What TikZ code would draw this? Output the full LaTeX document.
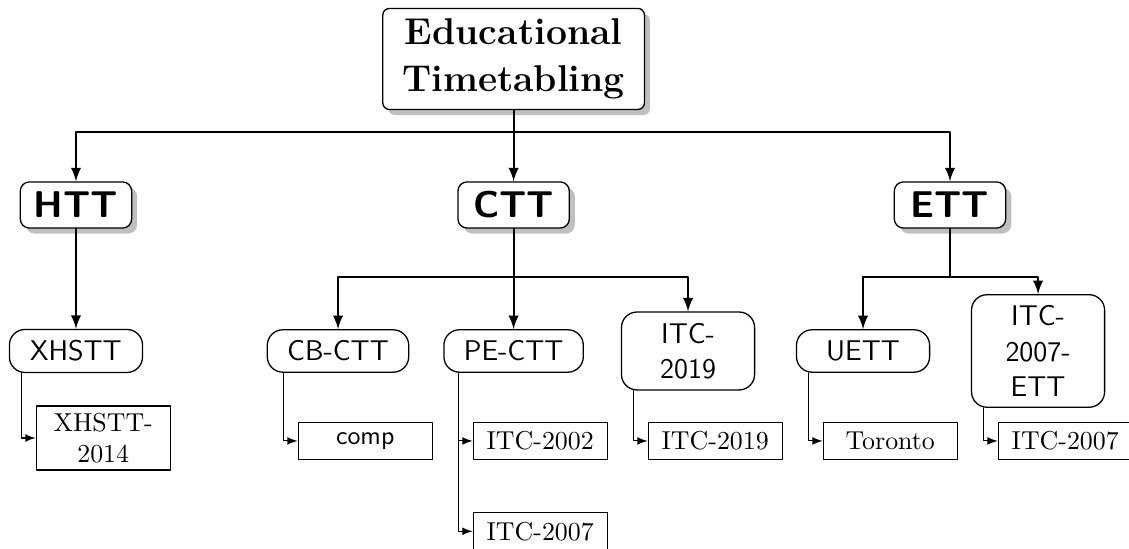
\documentclass[tikz,border=0pt]{standalone}
\usepackage{fontspec}
\usetikzlibrary{arrows,shadows}

\begin{document}
\begin{tikzpicture}[line cap=round,line join=round,>=latex,x=1.0cm,y=1.0cm,
	rootbox/.style={draw,line width=0.5pt,fill=white,rounded corners=2.5pt,drop shadow,align=center,font=\Large\bfseries,minimum width=101pt,minimum height=39pt,inner sep=4pt},
	kindbox/.style={draw,line width=0.5pt,fill=white,rounded corners=3.5pt,drop shadow,font=\Large\sffamily\bfseries,minimum width=43pt,minimum height=17.8pt,inner sep=2pt},
	setbox/.style={draw,line width=0.5pt,fill=white,rounded corners=6pt,align=center,font=\fontsize{11pt}{13.6pt}\selectfont\sffamily,minimum width=51.4pt,minimum height=15.4pt,inner xsep=7.7pt,inner ysep=4.25pt},
	leafbox/.style={draw,line width=0.5pt,fill=white,align=center,minimum width=51.7pt,minimum height=14.3pt,inner sep=2.7pt},
	mainline/.style={line width=0.8pt,->},
	leafline/.style={line width=0.4pt,->}]
				\useasboundingbox (0,0) rectangle (15.321,7.450);
				\node[rootbox] (root) at (6.97,6.650) {Educational\\Timetabling};
				\node[kindbox] (htt) at (1.031,4.668) {HTT};
				\node[kindbox] (ctt) at (6.97,4.668) {CTT};
				\node[kindbox] (ett) at (12.892,4.668) {ETT};
				\node[setbox] (xhstt) at (1.031,2.687) {XHSTT};
				\node[setbox] (cbctt) at (4.587,2.687) {CB-CTT};
				\node[setbox] (pectt) at (6.97,2.687) {PE-CTT};
				\node[setbox] (itcctt) at (9.337,2.687) {ITC-\\2019};
				\node[setbox] (uett) at (11.712,2.687) {UETT};
				\node[setbox] (itcett) at (14.087,2.687) {ITC-\\2007-\\ETT};
				\node[leafbox] (xhsttleaf) at (1.401,1.506) {XHSTT-\\2014};
				\node[leafbox,font=\sffamily] (compleaf) at (4.956,1.466) {comp};
				\node[leafbox] (itc02leaf) at (7.331,1.466) {ITC-2002};
				\node[leafbox] (itc07leaf) at (7.331,0.240) {ITC-2007};
				\node[leafbox] (itc19leaf) at (9.706,1.466) {ITC-2019};
				\node[leafbox] (torontoleaf) at (12.081,1.466) {Toronto};
				\node[leafbox] (itc07eleaf) at (14.456,1.466) {ITC-2007};
				\coordinate (topbus) at (6.97,5.659);
				\coordinate (cttbus) at (6.97,3.691);
				\coordinate (ettbus) at (12.892,3.691);
				\draw[mainline] (root.south) -- (topbus) -| (htt.north);
				\draw[mainline] (topbus) -| (ctt.north);
				\draw[mainline] (topbus) -| (ett.north);
				\draw[mainline] (htt.south) -- (xhstt.north);
				\draw[mainline] (ctt.south) -- (cttbus) -| (cbctt.north);
				\draw[mainline] (cttbus) -| (pectt.north);
				\draw[mainline] (cttbus) -| (itcctt.north);
				\draw[mainline] (ett.south) -- (ettbus) -| (uett.north);
				\draw[mainline] (ettbus) -| (itcett.north);
				\draw[leafline] ([xshift=-21.2pt]xhstt.south) |- (xhsttleaf.west);
				\draw[leafline] ([xshift=-21.2pt]cbctt.south) |- (compleaf.west);
				\draw[leafline] ([xshift=-21.2pt]pectt.south) |- (itc02leaf.west);
				\draw[leafline] ([xshift=-21.2pt]pectt.south) |- (itc07leaf.west);
				\draw[leafline] ([xshift=-21.2pt]itcctt.south) |- (itc19leaf.west);
				\draw[leafline] ([xshift=-21.2pt]uett.south) |- (torontoleaf.west);
				\draw[leafline] ([xshift=-21.2pt]itcett.south) |- (itc07eleaf.west);
			\end{tikzpicture}
\end{document}
